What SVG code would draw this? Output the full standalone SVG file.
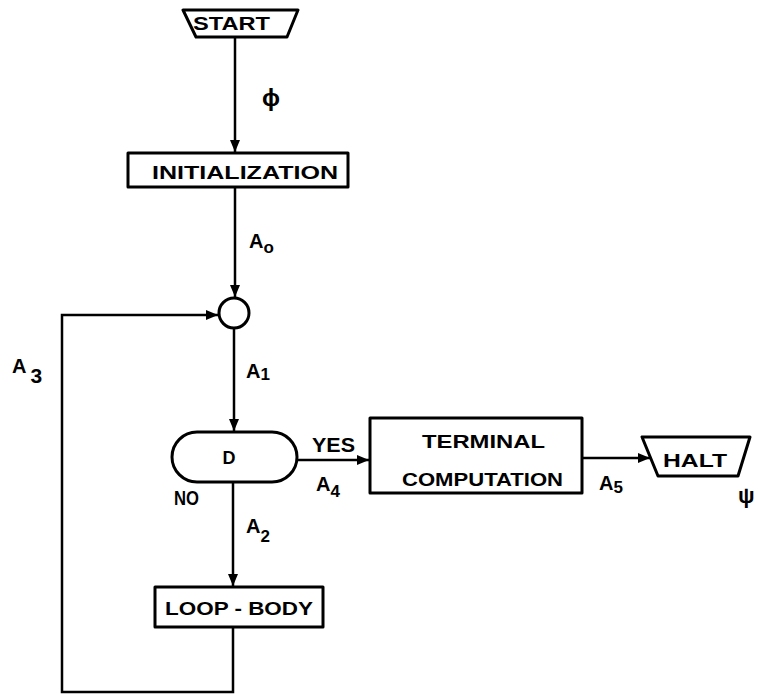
<svg xmlns="http://www.w3.org/2000/svg" width="758" height="697" viewBox="0 0 758 697">
<style>
  .shape { fill: #fff; stroke: #000; stroke-width: 3; stroke-linejoin: round; }
  .conn { fill: none; stroke: #000; stroke-width: 2.5; }
  .lbl { font-family: "Liberation Sans", Arial, sans-serif; font-weight: bold; fill: #000; }
  .box { font-size: 18px; }
  .arc { font-size: 20px; }
  .sub { font-size: 17px; }
</style>
<defs>
  <marker id="arrow" markerUnits="userSpaceOnUse" markerWidth="14" markerHeight="12" refX="12" refY="6" orient="auto">
    <path d="M0,1 L12,6 L0,11 Z" fill="#000"/>
  </marker>
</defs>
<rect width="758" height="697" fill="#fff"/>

<g id="connectors">
  <path class="conn" d="M235,37 V152" marker-end="url(#arrow)"/>
  <path class="conn" d="M235,187 V297" marker-end="url(#arrow)"/>
  <path class="conn" d="M234,328 V431" marker-end="url(#arrow)"/>
  <path class="conn" d="M297,460 H369" marker-end="url(#arrow)"/>
  <path class="conn" d="M582,458 H650" marker-end="url(#arrow)"/>
  <path class="conn" d="M233,482 V586" marker-end="url(#arrow)"/>
  <path class="conn" d="M233,627 V692 H62 V315 H218" marker-end="url(#arrow)"/>
</g>

<g id="arc-labels">
  <text class="lbl" x="262" y="106" font-size="24" font-weight="normal">ϕ</text>
  <text class="lbl arc" x="249" y="248">A<tspan class="sub" dy="5">o</tspan></text>
  <text class="lbl arc" x="246" y="378">A<tspan class="sub" dy="2">1</tspan></text>
  <text class="lbl arc" x="12" y="373">A<tspan dx="4" dy="10" font-size="21">3</tspan></text>
  <text class="lbl arc" x="312" y="452" font-size="18" textLength="43" lengthAdjust="spacingAndGlyphs">YES</text>
  <text class="lbl arc" x="316" y="491">A<tspan class="sub" dy="6">4</tspan></text>
  <text class="lbl arc" x="174" y="505" font-size="16" textLength="25" lengthAdjust="spacingAndGlyphs">NO</text>
  <text class="lbl arc" x="246" y="533">A<tspan class="sub" dy="9">2</tspan></text>
  <text class="lbl arc" x="599" y="490">A<tspan class="sub" dy="3">5</tspan></text>
  <text class="lbl" x="738" y="503" font-size="22" font-weight="normal">ψ</text>
</g>

<g id="start">
  <polygon class="shape" points="183,10 298,10 287,37 196,37"/>
  <text class="lbl box" x="193" y="30" textLength="77" lengthAdjust="spacingAndGlyphs">START</text>
</g>

<g id="initialization">
  <rect class="shape" x="128" y="153" width="220" height="34"/>
  <text class="lbl box" x="152" y="179" textLength="186" lengthAdjust="spacingAndGlyphs">INITIALIZATION</text>
</g>

<g id="junction">
  <circle class="shape" cx="234" cy="313" r="15"/>
</g>

<g id="decision">
  <rect class="shape" x="172" y="432" width="125" height="50" rx="25" ry="25"/>
  <text class="lbl box" x="229" y="464" text-anchor="middle">D</text>
</g>

<g id="terminal-computation">
  <rect class="shape" x="370" y="418" width="212" height="75"/>
  <text class="lbl box" x="422" y="448" font-size="19" font-weight="normal" textLength="123" lengthAdjust="spacingAndGlyphs">TERMINAL</text>
  <text class="lbl box" x="402" y="486" font-size="19" font-weight="normal" textLength="161" lengthAdjust="spacingAndGlyphs">COMPUTATION</text>
</g>

<g id="halt">
  <polygon class="shape" points="642,437 750,437 738,476 658,476"/>
  <text class="lbl box" x="663" y="467" font-size="19" textLength="64" lengthAdjust="spacingAndGlyphs">HALT</text>
</g>

<g id="loop-body">
  <rect class="shape" x="155" y="587" width="168" height="40"/>
  <text class="lbl box" x="165" y="615" font-size="19" textLength="148" lengthAdjust="spacingAndGlyphs">LOOP - BODY</text>
</g>
</svg>
